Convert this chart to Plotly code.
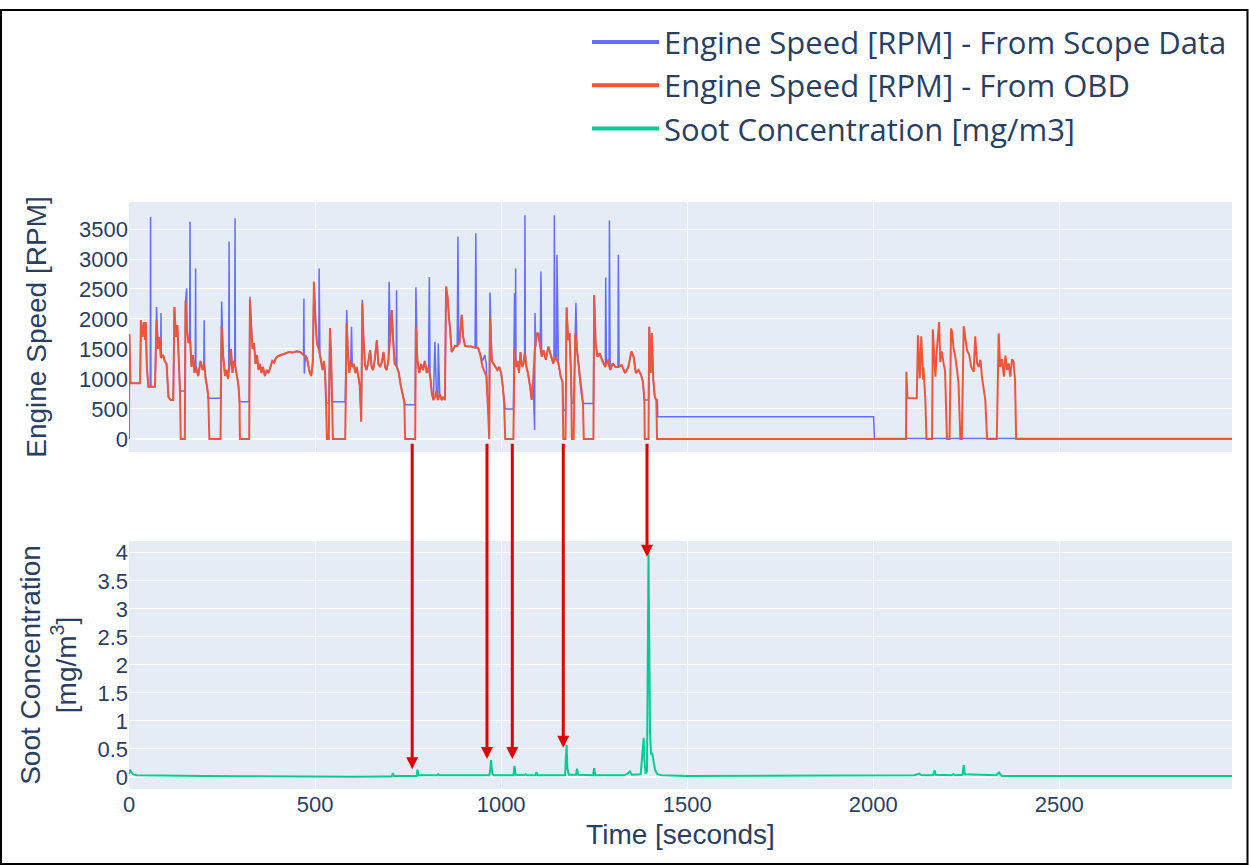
import plotly.graph_objects as go

# ---------------- data ----------------
# Engine speed from OBD: (time [s], rpm)
OBD_POINTS = [
    (0, 0), (1, 1750), (4, 930), (30, 930), (32, 1980), (36, 1700), (40, 1950), (43, 1650), (45, 1950),
    (48, 1200), (52, 870), (70, 870), (74, 1980), (78, 1500), (82, 1700), (86, 1350), (92, 1400), (96, 1300),
    (101, 1250), (106, 700), (112, 650), (119, 650), (122, 2200), (126, 1700), (130, 1900), (134, 1300),
    (137, 800), (139, 0), (150, 0), (152, 2300), (156, 1800), (160, 1600), (164, 1650), (168, 1200),
    (172, 1400), (176, 1100), (180, 1200), (186, 1050), (192, 1300), (198, 1150), (202, 1250), (206, 1000),
    (210, 870), (213, 700), (216, 0), (246, 0), (249, 1870), (253, 1400), (258, 1050), (262, 1150),
    (266, 1000), (270, 1200), (274, 1500), (278, 1100), (282, 1300), (286, 1200), (290, 1050), (294, 900),
    (297, 620), (298, 0), (323, 0), (325, 2320), (328, 1900), (332, 1500), (336, 1600), (340, 1250),
    (344, 1400), (348, 1150), (352, 1250), (356, 1100), (360, 1200), (365, 1050), (370, 1150), (375, 1100),
    (380, 1200), (385, 1300), (390, 1270), (395, 1350), (400, 1380), (410, 1400), (420, 1420), (430, 1450),
    (440, 1440), (450, 1460), (460, 1450), (466, 1420), (470, 1400), (478, 1350), (486, 1100), (490, 1050),
    (494, 1300), (497, 2620), (501, 2000), (505, 1590), (510, 1500), (515, 1350), (520, 1150), (524, 1300),
    (527, 1100), (530, 500), (532, 0), (537, 0), (540, 1850), (543, 1400), (546, 600), (548, 0), (581, 0),
    (585, 1930), (588, 1500), (592, 1100), (596, 1300), (600, 1200), (604, 1250), (608, 1100), (612, 1200),
    (616, 1050), (620, 900), (624, 290), (627, 2260), (630, 1700), (634, 1250), (638, 1150), (642, 1250),
    (648, 1480), (652, 1200), (656, 1150), (660, 1300), (666, 1650), (670, 1250), (675, 1200), (680, 1300),
    (684, 1450), (688, 1200), (692, 1150), (697, 1300), (702, 1700), (706, 2150), (710, 1600), (714, 1250),
    (720, 1200), (725, 1100), (730, 900), (735, 750), (740, 600), (742, 0), (769, 0), (771, 1870),
    (775, 1300), (780, 1100), (785, 1250), (790, 1150), (795, 1300), (800, 1100), (805, 1200), (810, 1000),
    (814, 750), (818, 650), (822, 700), (826, 800), (830, 650), (835, 750), (840, 650), (845, 700),
    (849, 650), (852, 2540), (856, 2370), (860, 2000), (863, 1840), (867, 1450), (872, 1500), (876, 1550),
    (882, 1550), (888, 1600), (894, 2070), (898, 1700), (903, 1550), (910, 1540), (920, 1540), (930, 1520),
    (938, 1520), (944, 1400), (950, 1200), (956, 1100), (960, 1050), (964, 600), (966, 0), (968, 0),
    (970, 2030), (975, 1300), (980, 1250), (985, 1200), (990, 1150), (995, 1200), (1000, 1100), (1004, 900),
    (1008, 600), (1011, 0), (1033, 0), (1036, 1500), (1040, 1200), (1044, 1300), (1048, 1100), (1052, 1450),
    (1056, 1200), (1060, 1250), (1064, 1430), (1068, 1200), (1072, 1100), (1078, 870), (1082, 650),
    (1086, 980), (1091, 1540), (1096, 1760), (1100, 1760), (1105, 1540), (1109, 1370), (1114, 1480),
    (1120, 1320), (1127, 1540), (1134, 1370), (1140, 1260), (1147, 1370), (1154, 1260), (1160, 1040),
    (1165, 950), (1167, 0), (1173, 0), (1176, 2190), (1180, 1650), (1184, 1760), (1188, 1040), (1190, 0),
    (1195, 0), (1199, 1760), (1204, 1480), (1208, 1200), (1214, 820), (1220, 590), (1222, 0), (1248, 0),
    (1250, 2400), (1254, 1590), (1259, 1370), (1265, 1430), (1271, 1320), (1280, 1200), (1287, 1320),
    (1293, 1150), (1300, 1260), (1307, 1200), (1315, 1200), (1324, 1230), (1333, 1100), (1342, 1200),
    (1350, 1460), (1356, 1370), (1362, 1100), (1369, 1150), (1376, 1070), (1381, 950), (1385, 650),
    (1386, 0), (1396, 0), (1398, 1870), (1402, 1100), (1405, 1760), (1409, 980), (1413, 700), (1417, 650),
    (1419, 0), (2088, 0), (2089, 1120), (2092, 680), (2117, 680), (2120, 1730), (2125, 1010), (2129, 1710),
    (2134, 990), (2135, 1190), (2140, 650), (2143, 0), (2158, 0), (2160, 1830), (2167, 1040), (2171, 1500),
    (2177, 1950), (2180, 1280), (2184, 1460), (2189, 1260), (2193, 1130), (2198, 0), (2205, 0), (2209, 1840),
    (2212, 1780), (2216, 1500), (2220, 1390), (2225, 1160), (2229, 940), (2234, 0), (2238, 0), (2243, 1880),
    (2247, 1710), (2252, 1480), (2258, 1400), (2263, 1200), (2270, 1120), (2274, 1710), (2279, 1260),
    (2283, 1200), (2288, 1320), (2292, 1040), (2301, 650), (2306, 0), (2332, 0), (2337, 1760), (2341, 1200),
    (2346, 1330), (2351, 1040), (2355, 1390), (2360, 1150), (2364, 1260), (2368, 1040), (2373, 1330),
    (2377, 1290), (2381, 980), (2384, 0), (2964, 0),
]

# Engine speed from scope data: (time [s], rpm)
SCOPE_POINTS = [
    (0, 0), (1, 1750), (4, 930), (30, 930), (32, 1980), (36, 1700), (40, 1950), (43, 1650), (45, 1950),
    (48, 1200), (52, 870), (57, 870), (58, 3700), (59, 870), (70, 870), (74, 2200), (78, 1500), (82, 1700),
    (85, 1350), (86, 2100), (87, 1350), (92, 1400), (96, 1300), (101, 1250), (106, 700), (112, 650),
    (119, 650), (122, 2200), (126, 1700), (130, 1900), (134, 1300), (137, 800), (150, 800), (152, 2300),
    (155, 2510), (156, 1800), (160, 1600), (163, 1650), (164, 3620), (165, 1650), (168, 1200), (172, 1400),
    (176, 1100), (178, 1200), (179, 2840), (180, 1200), (186, 1050), (192, 1300), (198, 1150), (201, 1250),
    (202, 1980), (203, 1250), (206, 1000), (210, 870), (213, 680), (246, 680), (249, 2290), (253, 1400),
    (258, 1050), (262, 1150), (266, 1000), (268, 1200), (269, 3290), (270, 1200), (274, 1500), (278, 1100),
    (282, 1300), (284, 1200), (285, 3680), (286, 1200), (290, 1050), (294, 900), (297, 620), (323, 620),
    (325, 2370), (328, 1900), (332, 1500), (336, 1600), (340, 1250), (344, 1400), (348, 1150), (352, 1250),
    (356, 1100), (360, 1200), (365, 1050), (370, 1150), (375, 1100), (380, 1200), (385, 1300), (390, 1270),
    (395, 1350), (400, 1380), (410, 1400), (420, 1420), (430, 1450), (440, 1440), (450, 1460), (460, 1450),
    (466, 1420), (469, 1400), (470, 2340), (471, 1090), (474, 1400), (478, 1350), (486, 1100), (490, 1050),
    (494, 1300), (497, 2620), (501, 2000), (505, 1590), (510, 1500), (511, 2840), (513, 1450), (515, 1350),
    (520, 1150), (524, 1300), (527, 1100), (530, 600), (537, 600), (540, 1850), (543, 1400), (546, 620),
    (581, 620), (585, 2150), (588, 1500), (592, 1100), (596, 1300), (598, 1870), (600, 1200), (604, 1250),
    (608, 1100), (612, 1200), (616, 1050), (620, 900), (624, 290), (627, 2320), (630, 1700), (634, 1250),
    (638, 1150), (642, 1250), (648, 1480), (652, 1200), (656, 1150), (660, 1300), (666, 1650), (670, 1250),
    (675, 1200), (680, 1300), (684, 1450), (688, 1200), (692, 1150), (697, 1300), (699, 2620), (702, 1700),
    (706, 2150), (710, 1600), (714, 1250), (718, 1250), (719, 2480), (720, 1200), (725, 1100), (730, 900),
    (735, 750), (740, 600), (742, 570), (769, 570), (771, 2530), (775, 1300), (780, 1100), (785, 1250),
    (790, 1150), (795, 1300), (800, 1100), (805, 1200), (807, 2700), (809, 1100), (814, 750), (818, 650),
    (822, 1620), (826, 800), (830, 650), (831, 1590), (835, 750), (840, 650), (845, 700), (849, 650),
    (852, 2540), (856, 2370), (860, 2000), (863, 1840), (867, 1450), (872, 1500), (876, 1550), (882, 1550),
    (884, 3370), (886, 1580), (888, 1600), (894, 2070), (898, 1700), (903, 1550), (910, 1540), (920, 1540),
    (930, 1520), (932, 3430), (934, 1520), (938, 1520), (944, 1400), (950, 1300), (956, 1400), (960, 1250),
    (964, 600), (966, 480), (968, 480), (970, 2440), (975, 1300), (980, 1250), (985, 1200), (990, 1150),
    (995, 1200), (1000, 1100), (1004, 900), (1008, 600), (1011, 500), (1033, 500), (1036, 2430), (1038, 1300),
    (1039, 2840), (1040, 1200), (1044, 1300), (1048, 1100), (1052, 1450), (1056, 1200), (1060, 1250),
    (1063, 1430), (1064, 3730), (1065, 1430), (1068, 1200), (1072, 1100), (1078, 870), (1082, 650),
    (1086, 980), (1090, 150), (1091, 2100), (1093, 1540), (1096, 1760), (1100, 1760), (1105, 1540),
    (1107, 2790), (1109, 1370), (1114, 1480), (1120, 1320), (1127, 1540), (1134, 1370), (1140, 1260),
    (1142, 1300), (1143, 3730), (1145, 1370), (1149, 1370), (1150, 3070), (1152, 1300), (1154, 1260),
    (1160, 1040), (1165, 950), (1167, 480), (1173, 480), (1176, 2190), (1180, 1650), (1184, 1760),
    (1188, 1040), (1190, 600), (1195, 600), (1199, 1760), (1201, 2270), (1204, 1480), (1208, 1200),
    (1214, 820), (1220, 590), (1248, 590), (1250, 2400), (1254, 1590), (1259, 1370), (1265, 1430),
    (1271, 1320), (1280, 1200), (1281, 2690), (1283, 1250), (1287, 1320), (1290, 1200), (1291, 3640),
    (1293, 1150), (1300, 1260), (1307, 1200), (1314, 1200), (1315, 3070), (1317, 1200), (1324, 1230),
    (1333, 1100), (1342, 1200), (1350, 1460), (1356, 1370), (1362, 1100), (1369, 1150), (1376, 1070),
    (1381, 950), (1385, 650), (1396, 650), (1398, 1870), (1402, 1100), (1405, 1760), (1409, 980),
    (1413, 700), (1417, 650), (1420, 650), (1421, 370), (2001, 370), (2003, 10), (2964, 10),
]

# Soot concentration: (time [s], mg/m3)
SOOT_POINTS = [
    (0, 0.05), (2, 0.13), (5, 0.10), (10, 0.05), (20, 0.03), (100, 0.02), (200, 0.02), (300, 0.015),
    (400, 0.01), (500, 0.005), (600, 0.005), (700, 0.01), (706, 0.01), (709, 0.07), (712, 0.02),
    (760, 0.02), (773, 0.02), (775, 0.13), (778, 0.03), (829, 0.03), (831, 0.05), (835, 0.03),
    (856, 0.03), (858, 0.04), (862, 0.03), (968, 0.03), (970, 0.10), (973, 0.30), (976, 0.06),
    (980, 0.03), (1033, 0.03), (1036, 0.20), (1039, 0.04), (1062, 0.03), (1066, 0.05), (1070, 0.03),
    (1092, 0.03), (1095, 0.09), (1098, 0.03), (1172, 0.03), (1174, 0.35), (1176, 0.57), (1178, 0.15),
    (1182, 0.04), (1201, 0.04), (1204, 0.15), (1207, 0.04), (1247, 0.03), (1250, 0.16), (1253, 0.03),
    (1330, 0.03), (1340, 0.06), (1346, 0.10), (1352, 0.04), (1375, 0.05), (1381, 0.50), (1383, 0.70),
    (1385, 0.30), (1388, 0.06), (1392, 0.10), (1394, 2.0), (1396, 4.0), (1398, 2.5), (1400, 0.80),
    (1403, 0.40), (1406, 0.43), (1409, 0.30), (1414, 0.12), (1420, 0.05), (1430, 0.03), (1500, 0.02),
    (2000, 0.02), (2110, 0.03), (2124, 0.06), (2130, 0.03), (2160, 0.03), (2165, 0.12), (2167, 0.04),
    (2210, 0.03), (2215, 0.05), (2220, 0.03), (2240, 0.04), (2243, 0.21), (2246, 0.05), (2330, 0.03),
    (2338, 0.08), (2345, 0.02), (2964, 0.02),
]

# Arrows linking engine-off events to soot peaks
ARROW_TIMES = [761, 962, 1030, 1167, 1392]
ARROW_TIPS = [0.14, 0.32, 0.32, 0.52, 3.93]

RPM_TICKS = [0, 500, 1000, 1500, 2000, 2500, 3000, 3500]
SOOT_TICKS = [0, 0.5, 1, 1.5, 2, 2.5, 3, 3.5, 4]
SOOT_TICK_TEXT = ["0", "0.5", "1", "1.5", "2", "2.5", "3", "3.5", "4"]
TIME_TICKS = [0, 500, 1000, 1500, 2000, 2500]

SERIES_NAMES = ["Engine Speed [RPM] - From Scope Data", "Engine Speed [RPM] - From OBD",
                "Soot Concentration [mg/m3]"]
SERIES_COLORS = ["#636efa", "#EF553B", "#00cc96"]

obd_t = [p[0] for p in OBD_POINTS]
obd_v = [p[1] for p in OBD_POINTS]
scope_t = [p[0] for p in SCOPE_POINTS]
scope_v = [p[1] for p in SCOPE_POINTS]
soot_t = [p[0] for p in SOOT_POINTS]
soot_v = [p[1] for p in SOOT_POINTS]

# ---------------- figure ----------------
AXIS_FONT = "Liberation Sans, Arial, sans-serif"
TXT = "#2a3f5f"

fig = go.Figure()
fig.add_trace(go.Scatter(x=scope_t, y=scope_v, mode="lines", name=SERIES_NAMES[0], showlegend=False,
                         line=dict(color=SERIES_COLORS[0], width=1.5), xaxis="x", yaxis="y"))
fig.add_trace(go.Scatter(x=obd_t, y=obd_v, mode="lines", name=SERIES_NAMES[1], showlegend=False,
                         line=dict(color=SERIES_COLORS[1], width=2), xaxis="x", yaxis="y"))
fig.add_trace(go.Scatter(x=soot_t, y=soot_v, mode="lines", name=SERIES_NAMES[2], showlegend=False,
                         line=dict(color=SERIES_COLORS[2], width=2), xaxis="x2", yaxis="y2"))
# legend entries (thicker keys, as in the reference legend)
for name, color in zip(SERIES_NAMES, SERIES_COLORS):
    fig.add_trace(go.Scatter(x=[None], y=[None], mode="lines", name=name,
                             line=dict(color=color, width=4), xaxis="x", yaxis="y", hoverinfo="skip"))

annotations = []
for t, tip in zip(ARROW_TIMES, ARROW_TIPS):
    annotations.append(dict(x=t, y=tip, xref="x2", yref="y2", ax=t, ay=5.97, axref="x2", ayref="y2",
                            text="", showarrow=True, arrowhead=2, arrowsize=0.8, arrowwidth=3,
                            arrowcolor="#e00000", standoff=0))

H_PLOT = 587.0
W_PLOT = 1103.0

fig.update_layout(
    width=1249, height=865,
    margin=dict(l=129, r=17, t=202, b=76, autoexpand=False),
    paper_bgcolor="white", plot_bgcolor="#E5ECF6",
    font=dict(family=AXIS_FONT, color=TXT, size=22),
    showlegend=True,
    legend=dict(x=1.0, xanchor="right", y=1.318, yanchor="top", bgcolor="rgba(0,0,0,0)",
                font=dict(family="Open Sans, sans-serif", size=31, color=TXT), itemwidth=67),
    xaxis=dict(domain=[0, 1], anchor="y", matches="x2", showticklabels=False, range=[0, 2964],
               tickvals=TIME_TICKS, gridcolor="white", zeroline=False, showline=False),
    yaxis=dict(domain=[(789 - 452) / H_PLOT, 1], anchor="x", range=[-217, 3950], tickvals=RPM_TICKS,
               gridcolor="white", zeroline=True, zerolinecolor="white", zerolinewidth=2,
               title=dict(text="Engine Speed [RPM]", font=dict(size=28), standoff=24),
               tickfont=dict(size=22), automargin=False),
    xaxis2=dict(domain=[0, 1], anchor="y2", range=[0, 2964], tickvals=TIME_TICKS,
                gridcolor="white", zeroline=False, showline=False, tickfont=dict(size=22),
                title=dict(text="Time [seconds]", font=dict(size=28), standoff=8), automargin=False),
    yaxis2=dict(domain=[0, (789 - 541) / H_PLOT], anchor="x2", range=[-0.214, 4.21], tickvals=SOOT_TICKS,
                ticktext=SOOT_TICK_TEXT,
                gridcolor="white", zeroline=True, zerolinecolor="white", zerolinewidth=2,
                title=dict(text="Soot Concentration<br>[mg/m<sup>3</sup>]", font=dict(size=28), standoff=12),
                tickfont=dict(size=22), automargin=False),
    annotations=annotations,
    shapes=[dict(type="rect", xref="paper", yref="paper",
                 x0=(1 - 129) / W_PLOT, x1=(1247.5 - 129) / W_PLOT,
                 y0=(789 - 864) / H_PLOT, y1=(789 - 10) / H_PLOT,
                 line=dict(color="black", width=2), fillcolor="rgba(0,0,0,0)", layer="above")],
)

fig.write_html("out.html")
